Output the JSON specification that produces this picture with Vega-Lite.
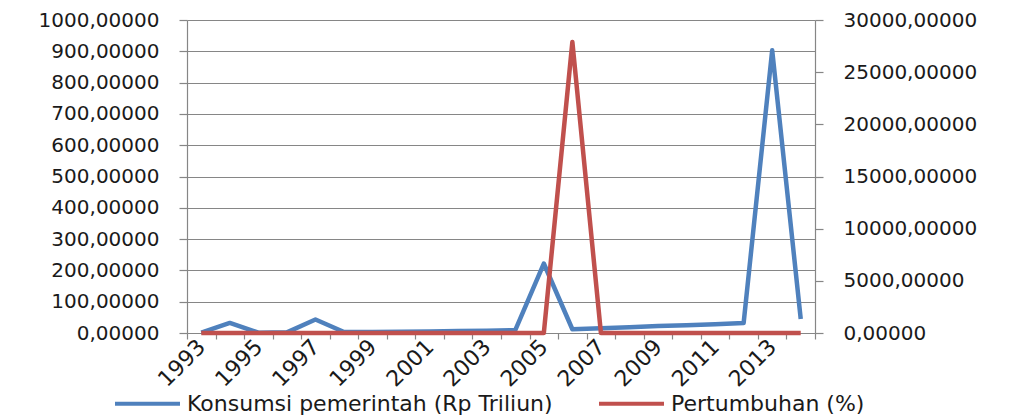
{
  "$schema": "https://vega.github.io/schema/vega-lite/v6.json",
  "width": 628,
  "height": 313,
  "autosize": {"type": "none"},
  "padding": {"left": 187, "top": 20, "right": 198, "bottom": 86},
  "background": "white",
  "config": {
    "view": {"stroke": null},
    "font": "DejaVu Sans",
    "axis": {"labelFont": "DejaVu Sans", "labelColor": "#1a1a1a", "domainColor": "#868686", "tickColor": "#868686", "gridColor": "#868686", "domainWidth": 1.2, "tickWidth": 1.2, "gridWidth": 1.2}
  },
  "data": {
    "values": [
      {"tahun": 1993, "konsumsi": 1, "pertumbuhan": 0},
      {"tahun": 1994, "konsumsi": 32, "pertumbuhan": 8},
      {"tahun": 1995, "konsumsi": 1, "pertumbuhan": 2},
      {"tahun": 1996, "konsumsi": 2, "pertumbuhan": 10},
      {"tahun": 1997, "konsumsi": 43, "pertumbuhan": 9},
      {"tahun": 1998, "konsumsi": 3, "pertumbuhan": 2},
      {"tahun": 1999, "konsumsi": 3, "pertumbuhan": 4},
      {"tahun": 2000, "konsumsi": 4, "pertumbuhan": 6},
      {"tahun": 2001, "konsumsi": 5, "pertumbuhan": 6},
      {"tahun": 2002, "konsumsi": 6, "pertumbuhan": 5},
      {"tahun": 2003, "konsumsi": 7, "pertumbuhan": 5},
      {"tahun": 2004, "konsumsi": 9, "pertumbuhan": 6},
      {"tahun": 2005, "konsumsi": 222, "pertumbuhan": 8},
      {"tahun": 2006, "konsumsi": 12, "pertumbuhan": 27900},
      {"tahun": 2007, "konsumsi": 15, "pertumbuhan": 6},
      {"tahun": 2008, "konsumsi": 18, "pertumbuhan": 6},
      {"tahun": 2009, "konsumsi": 22, "pertumbuhan": 6},
      {"tahun": 2010, "konsumsi": 25, "pertumbuhan": 5},
      {"tahun": 2011, "konsumsi": 28, "pertumbuhan": 4},
      {"tahun": 2012, "konsumsi": 32, "pertumbuhan": 4},
      {"tahun": 2013, "konsumsi": 903, "pertumbuhan": 7},
      {"tahun": 2014, "konsumsi": 45, "pertumbuhan": 3}
    ]
  },
  "encoding": {
    "x": {
      "field": "tahun",
      "type": "ordinal",
      "bandPosition": 0.5,
      "scale": {"type": "band", "paddingInner": 0, "paddingOuter": 0},
      "axis": {
        "title": null,
        "tickBand": "extent",
        "grid": false,
        "tickSize": 6,
        "labelAngle": -45,
        "labelAlign": "right",
        "labelBaseline": "middle",
        "labelFontSize": 22,
        "labelPadding": 4,
        "labelExpr": "datum.value % 2 == 1 ? datum.label : ''"
      }
    }
  },
  "layer": [
    {
      "mark": {"type": "line", "strokeWidth": 4.5, "strokeJoin": "round"},
      "encoding": {
        "y": {
          "field": "konsumsi",
          "type": "quantitative",
          "scale": {"domain": [0, 1000], "nice": false},
          "axis": {
            "title": null,
            "orient": "left",
            "values": [0, 100, 200, 300, 400, 500, 600, 700, 800, 900, 1000],
            "grid": true,
            "tickSize": 8,
            "labelPadding": 20,
            "labelFontSize": 20,
            "labelExpr": "replace(format(datum.value, '.5f'), '.', ',')"
          }
        },
        "color": {
          "datum": "Konsumsi pemerintah (Rp Triliun)",
          "type": "nominal",
          "scale": {"domain": ["Konsumsi pemerintah (Rp Triliun)", "Pertumbuhan (%)"], "range": ["#4F81BD", "#C0504D"]},
          "legend": {
            "title": null,
            "orient": "none",
            "direction": "horizontal",
            "legendX": -74,
            "legendY": 349,
            "symbolType": "stroke",
            "symbolSize": 4225,
            "symbolStrokeWidth": 4,
            "labelFontSize": 22,
            "labelColor": "#1a1a1a",
            "labelLimit": 0,
            "labelOffset": 5,
            "columnPadding": 38
          }
        }
      }
    },
    {
      "mark": {"type": "line", "strokeWidth": 4.5, "strokeJoin": "round"},
      "encoding": {
        "y": {
          "field": "pertumbuhan",
          "type": "quantitative",
          "scale": {"domain": [0, 30000], "nice": false},
          "axis": {
            "title": null,
            "orient": "right",
            "values": [0, 5000, 10000, 15000, 20000, 25000, 30000],
            "grid": false,
            "tickSize": 8,
            "labelPadding": 20,
            "labelFontSize": 20,
            "labelExpr": "replace(format(datum.value, '.5f'), '.', ',')"
          }
        },
        "color": {"datum": "Pertumbuhan (%)", "type": "nominal"}
      }
    }
  ],
  "resolve": {"scale": {"y": "independent"}}
}
